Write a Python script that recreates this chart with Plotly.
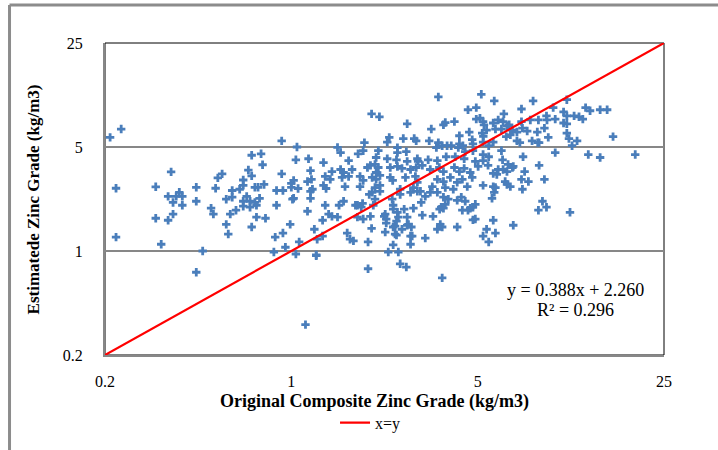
import math
import plotly.graph_objects as go

# Original composite zinc grade (kg/m3) for each sample
orig_grade = [
    0.209, 0.23, 0.92, 0.71, 0.77, 0.78, 0.69, 0.354, 0.55, 0.53, 0.71, 0.66, 0.92, 0.66,
    0.22, 0.31, 0.44, 0.52, 0.73, 0.75, 0.79, 0.88, 0.93, 1.0, 0.6, 0.64, 0.345, 0.37,
    0.39, 0.38, 0.57, 0.6, 0.68, 0.76, 0.36, 0.39, 0.44, 0.66, 0.70, 0.73, 0.74, 0.66,
    0.70, 0.88, 1.01, 0.5, 0.51, 0.62, 0.59, 0.31, 0.345, 0.36, 0.57, 0.74, 0.80, 0.99,
    0.71, 0.58, 0.93, 0.87, 0.22, 0.325, 0.95, 0.86, 0.465, 0.44,
    1.15, 1.18, 1.0,
    3.56, 5.16, 2.0, 2.14, 2.72, 3.72, 3.78, 4.09, 4.6, 4.94, 4.94, 5.1, 5.24, 3.35,
    4.65, 4.27, 5.2, 2.33, 2.29, 1.88, 2.63, 2.89, 2.94, 3.29, 3.56, 3.98, 4.27, 4.4,
    4.77, 4.8, 5.25, 1.05, 1.49, 1.53, 1.78, 1.86, 2.12, 2.5, 2.5, 2.7, 3.5, 3.68,
    3.84, 4.23, 4.49, 4.8,
    1.04, 1.16, 1.32, 1.64, 2.08, 2.29, 2.48, 2.72, 2.97, 2.99, 3.26, 3.53, 3.81, 4.12,
    4.45, 4.9, 5.24,
    1.18, 1.42, 1.53, 1.57, 1.69, 1.93, 1.98, 2.06, 2.12, 2.08, 2.35, 2.5, 2.6, 2.8,
    2.94, 3.1, 3.32, 3.59, 3.72, 4.09, 4.27, 4.45, 4.69, 5.02,
    1.02, 1.19, 1.34, 1.4, 1.55, 1.64, 1.81, 1.86, 2.01, 2.08, 2.15, 2.35, 2.4, 2.68,
    2.92, 2.97, 3.53, 3.72, 3.95, 4.19, 4.38, 4.77, 5.24,
    1.06, 1.2, 1.32, 1.35, 1.59, 1.81, 2.06, 2.15, 2.56, 2.97, 3.38, 3.78, 4.05, 4.57,
    1.02, 1.18, 1.34, 1.57, 1.77, 1.85, 1.96, 2.06, 2.39, 3.07, 3.72, 3.88, 4.19, 4.49,
    4.9,
    1.71, 1.94, 1.94, 2.31, 2.52, 2.56, 2.7, 2.8, 3.18, 3.68, 2.41, 1.24, 1.07, 1.25,
    1.31, 1.38, 1.42, 1.62, 1.51, 1.74, 1.83, 2.0, 2.23, 2.27, 2.45, 2.45, 2.52, 2.87,
    2.75, 2.8, 3.1, 3.4, 3.62, 3.65, 3.78, 4.19, 4.69, 4.8, 4.38, 4.34, 3.32, 3.53,
    3.18, 3.05, 2.8, 2.87, 2.41, 2.03, 2.01, 2.15, 2.56,
    1.15, 1.49, 1.22, 1.31, 1.24, 1.04, 1.66, 1.77, 1.86, 1.98, 2.25, 2.27, 2.25, 2.41,
    2.5, 2.48, 2.41, 2.6, 2.48, 2.65, 2.72, 2.72, 2.82, 2.84, 3.53, 3.68, 3.6, 3.72,
    4.6, 4.8, 4.9, 5.24, 1.13,
    5.77, 8.07, 10.8, 12.7, 13.2, 14.4, 15.3, 6.27, 7.3, 5.97, 6.23, 6.44, 5.72, 5.28,
    7.3, 7.88, 8.45, 9.06, 9.1, 9.6, 9.77, 10.5, 10.5, 10.8, 10.8, 11.5, 12.0, 12.4,
    5.4, 5.83, 6.14, 6.56, 6.75, 7.02, 7.36, 7.67, 8.37, 8.9, 10.8, 11.0, 11.8, 9.2,
    8.0, 8.4, 8.5, 7.02, 7.2, 6.4, 6.63, 5.72, 5.5, 5.24, 11.3, 16.1, 6.14, 5.5,
    5.24, 7.4, 9.77, 13.0, 14.4, 19.5, 6.2, 6.5, 6.8, 5.47, 5.97, 6.23, 6.44, 6.75,
    5.72, 5.9, 7.5, 8.5, 8.9, 7.3, 7.75, 6.34, 6.44, 6.63, 5.72, 5.83, 7.36, 5.77,
    5.66, 8.75, 9.06, 8.45,
    11.1, 5.72, 6.8, 5.4, 5.83, 5.5,
]

# Estimated zinc grade (kg/m3) for the same samples
est_grade = [
    5.8, 6.6, 5.5, 4.4, 4.5, 3.8, 3.5, 3.4, 3.3, 3.1, 3.2, 3.0, 3.3, 2.76,
    2.64, 2.7, 2.68, 2.64, 2.68, 2.68, 2.8, 2.55, 2.55, 2.85, 2.55, 2.6, 2.33, 2.33,
    2.33, 2.48, 2.23, 2.3, 2.33, 2.26, 2.12, 2.03, 2.16, 2.16, 2.16, 2.12, 2.03, 2.0,
    1.97, 2.03, 2.23, 1.94, 1.77, 1.88, 1.77, 1.66, 1.61, 1.77, 1.51, 1.69, 1.66, 1.51,
    1.45, 1.30, 1.32, 1.24, 1.24, 1.11, 1.06, 0.985, 1.0, 0.72,
    2.93, 2.52, 2.68,
    10.85, 11.3, 8.35, 7.98, 7.16, 7.05, 7.3, 7.4, 8.9, 9.2, 7.7, 7.8, 7.4, 6.6,
    6.3, 5.95, 6.2, 5.8, 5.4, 5.35, 5.7, 5.7, 5.5, 5.5, 5.35, 5.1, 5.25, 5.1,
    5.6, 5.25, 5.9, 5.0, 4.97, 4.58, 4.5, 4.72, 4.72, 4.95, 4.58, 4.65, 4.95, 5.1,
    5.1, 4.95, 4.65, 4.72,
    4.1, 4.17, 3.93, 4.05, 4.25, 4.17, 4.1, 4.0, 4.17, 4.0, 4.1, 4.05, 4.3, 4.3,
    4.17, 4.0, 4.05,
    3.47, 3.42, 3.53, 3.37, 3.53, 3.64, 3.76, 3.82, 3.64, 3.37, 3.64, 3.7, 3.59, 3.53,
    3.64, 3.76, 3.53, 3.64, 3.42, 3.64, 3.42, 3.59, 3.37, 3.7,
    2.98, 3.03, 3.17, 3.03, 3.12, 3.17, 3.17, 2.98, 3.12, 3.03, 3.22, 3.12, 2.98, 3.12,
    3.17, 2.89, 3.03, 2.93, 3.12, 2.89, 3.03, 3.12, 2.76,
    2.63, 2.6, 2.76, 2.63, 2.71, 2.71, 2.67, 2.76, 2.6, 2.52, 2.71, 2.67, 2.6, 2.71,
    2.26, 2.26, 2.03, 2.16, 2.03, 2.09, 2.4, 2.23, 2.23, 2.12, 2.3, 2.23, 2.19, 2.16,
    2.06,
    1.17, 1.15, 0.76, 0.985, 0.985, 0.82, 0.78, 1.11, 1.22, 0.66, 1.1, 0.94, 1.15, 1.2,
    1.61, 1.77, 1.71, 1.32, 2.03, 2.03, 1.97, 1.42, 1.71, 1.54, 1.47, 1.3, 1.69, 1.94,
    1.51, 1.26, 1.74, 1.71, 1.51, 1.97, 2.06, 1.45, 1.94, 1.62, 1.88, 2.3, 2.48, 2.48,
    2.33, 2.52, 2.48, 2.67, 2.03, 2.03, 2.48, 2.52, 2.4,
    1.85, 1.69, 1.4, 1.26, 0.93, 0.955, 1.2, 1.69, 1.64, 1.71, 1.77, 1.64, 1.34, 1.91,
    1.82, 1.59, 1.45, 1.4, 1.28, 1.91, 1.69, 1.49, 1.45, 1.26, 1.4, 1.45, 1.91, 1.94,
    1.88, 1.97, 1.64, 1.26, 0.32,
    10.2, 10.2, 10.4, 9.2, 8.76, 8.9, 8.9, 8.35, 9.0, 7.6, 7.4, 6.94, 7.25, 7.05,
    7.4, 7.6, 7.6, 8.1, 7.6, 9.2, 7.7, 8.6, 7.25, 7.16, 8.1, 8.1, 7.98, 7.7,
    6.5, 6.6, 6.6, 7.05, 6.5, 6.3, 6.7, 6.4, 6.3, 6.7, 6.2, 5.7, 5.5, 5.8,
    5.5, 5.35, 5.35, 5.5, 5.35, 5.87, 6.04, 5.4, 5.1, 5.4, 5.1, 5.87, 4.72, 4.3,
    4.45, 4.3, 4.58, 4.45, 4.25, 4.45, 4.1, 3.82, 3.7, 3.76, 3.53, 3.53, 3.42, 3.64,
    3.32, 3.27, 3.42, 3.76, 3.03, 3.03, 2.93, 2.93, 2.8, 2.71, 2.71, 2.67, 2.6, 2.48,
    2.26, 2.16, 1.97, 1.88,
    1.82, 1.61, 1.49, 1.4, 1.32, 1.15,
]

# Axis limits and tick labels (log scale)
axis_min, axis_max = 0.2, 25
tick_vals = [0.2, 1, 5, 25]
tick_text = ["0.2", "1", "5", "25"]

# Reference line x = y
line_x = [axis_min, axis_max]
line_y = [axis_min, axis_max]

trend_label = "y = 0.388x + 2.260"
r2_label = "R² = 0.296"

serif = "Liberation Serif, Times New Roman, serif"
grid_grey = "#878787"

fig = go.Figure()

fig.add_trace(go.Scatter(
    x=orig_grade, y=est_grade, mode="markers",
    marker=dict(symbol="cross", size=7, color="#4a7ebb",
                line=dict(width=0)),
    showlegend=False, hoverinfo="x+y",
))

fig.add_trace(go.Scatter(
    x=line_x, y=line_y, mode="lines", name="x=y",
    line=dict(color="#ff0000", width=2.2),
))

log_range = [math.log10(axis_min), math.log10(axis_max)]

fig.update_layout(
    width=718, height=450,
    margin=dict(l=105, r=54, t=43, b=94),
    paper_bgcolor="white", plot_bgcolor="white",
    font=dict(family=serif, size=16, color="black"),
    showlegend=True,
    legend=dict(orientation="h", x=0.475, xanchor="center", y=-0.213, yanchor="middle",
                font=dict(family=serif, size=16), bgcolor="rgba(0,0,0,0)"),
    xaxis=dict(type="log", range=log_range, tickvals=tick_vals, ticktext=tick_text,
               showgrid=False, zeroline=False,
               showline=True, linecolor=grid_grey, linewidth=2,
               ticks="outside", ticklen=11, tickcolor="rgba(0,0,0,0)",
               tickfont=dict(family=serif, size=16)),
    yaxis=dict(type="log", range=log_range, tickvals=tick_vals, ticktext=tick_text,
               showgrid=True, gridcolor=grid_grey, gridwidth=2, zeroline=False,
               showline=True, linecolor=grid_grey, linewidth=2,
               ticks="outside", ticklen=17, tickcolor="rgba(0,0,0,0)",
               tickfont=dict(family=serif, size=16)),
)

# Plot-area frame: black top/right, grey axes on left/bottom
fig.add_shape(type="rect", xref="paper", yref="paper", x0=0, y0=0, x1=1, y1=1,
              line=dict(color="black", width=1), layer="below")

# Outer chart-area border (top and left edges)
fig.add_shape(type="line", xref="paper", yref="paper",
              x0=-0.1708, y0=1.1214, x1=1.1, y1=1.1214,
              line=dict(color="#8c8c8c", width=3))
fig.add_shape(type="line", xref="paper", yref="paper",
              x0=-0.1708, y0=1.1214, x1=-0.1708, y1=-0.31,
              line=dict(color="#8c8c8c", width=3))

annotations = [
    dict(text="<b>Original Composite Zinc Grade (kg/m3)</b>", xref="paper", yref="paper",
         x=0.483, y=-0.148, xanchor="center", yanchor="middle", showarrow=False,
         font=dict(family=serif, size=18)),
    dict(text="<b>Estimatede Zinc Grade (kg/m3)</b>", xref="paper", yref="paper",
         x=-0.128, y=0.5, xanchor="center", yanchor="middle", textangle=-90,
         showarrow=False, font=dict(family=serif, size=17)),
    dict(text=trend_label, xref="paper", yref="paper", x=0.842, y=0.208,
         xanchor="center", yanchor="middle", showarrow=False,
         font=dict(family=serif, size=18)),
    dict(text=r2_label, xref="paper", yref="paper", x=0.842, y=0.144,
         xanchor="center", yanchor="middle", showarrow=False,
         font=dict(family=serif, size=18)),
]
fig.update_layout(annotations=annotations)

fig.write_html("out.html")
